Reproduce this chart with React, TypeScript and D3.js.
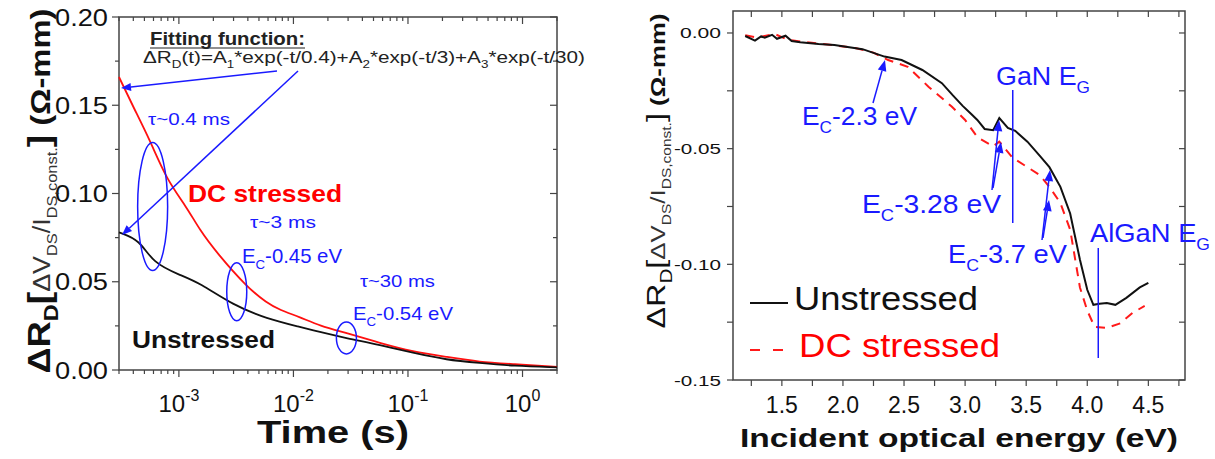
import React from "react";
import * as d3 from "d3";

// ---------- Left chart data (time decay) ----------
const tRed = [3e-4, 4e-4, 5.58e-4, 7.85e-4, 1.17e-3, 1.52e-3, 2.15e-3, 3.92e-3, 5.87e-3, 7.6e-3, 1.14e-2, 1.7e-2, 2.9e-2, 5.7e-2, 0.11, 0.218, 0.42, 0.83, 2.0];
const vRed = [0.166, 0.149, 0.1303, 0.1076, 0.0923, 0.0793, 0.0663, 0.047, 0.038, 0.034, 0.030, 0.025, 0.021, 0.0153, 0.0104, 0.0074, 0.0045, 0.0034, 0.0017];
const tBlack = [3e-4, 4.56e-4, 5.93e-4, 1.02e-3, 1.52e-3, 2.96e-3, 5.87e-3, 1.14e-2, 1.7e-2, 2.9e-2, 5.7e-2, 0.11, 0.218, 0.42, 0.83, 2.0];
const vBlack = [0.078, 0.0737, 0.0606, 0.0538, 0.0493, 0.0368, 0.029, 0.0244, 0.0215, 0.018, 0.0142, 0.0097, 0.0057, 0.004, 0.0023, 0.0015];
const leftYTicks = [0, 0.05, 0.1, 0.15, 0.2];
const leftYLabels = ["0.00", "0.05", "0.10", "0.15", "0.20"];
const leftXDecades = [-3, -2, -1, 0];

// ---------- Right chart data (spectrum) ----------
const eBlack = [1.2, 1.28, 1.33, 1.36, 1.42, 1.46, 1.53, 1.58, 1.65, 1.8, 1.93, 2.16, 2.34, 2.48, 2.65, 2.81, 2.9, 2.98, 3.05, 3.1, 3.16, 3.23, 3.28, 3.35, 3.41, 3.51, 3.61, 3.69, 3.78, 3.86, 3.9, 3.94, 4.0, 4.05, 4.1, 4.16, 4.23, 4.32, 4.43, 4.5];
const vBlackR = [-0.0013, -0.0033, -0.0015, -0.002, -0.0008, -0.0025, -0.0012, -0.0035, -0.004, -0.0048, -0.0052, -0.007, -0.0102, -0.0117, -0.016, -0.0217, -0.027, -0.0315, -0.035, -0.0376, -0.0415, -0.042, -0.0368, -0.041, -0.0423, -0.047, -0.053, -0.058, -0.0665, -0.078, -0.088, -0.098, -0.111, -0.1175, -0.117, -0.1167, -0.1175, -0.1145, -0.11, -0.108];
const eRed = [1.2, 1.3, 1.44, 1.55, 1.7, 1.8, 1.95, 2.1, 2.25, 2.37, 2.53, 2.7, 2.89, 3.0, 3.1, 3.23, 3.28, 3.39, 3.51, 3.61, 3.69, 3.78, 3.86, 3.94, 4.0, 4.06, 4.16, 4.27, 4.37, 4.47];
const vRedR = [-0.001, -0.002, -0.0004, -0.003, -0.004, -0.0045, -0.0055, -0.0065, -0.0085, -0.0117, -0.0146, -0.0232, -0.0318, -0.0376, -0.045, -0.049, -0.047, -0.054, -0.058, -0.0614, -0.0665, -0.0735, -0.085, -0.11, -0.12, -0.127, -0.1275, -0.1255, -0.121, -0.118];
const rightXTicks = [1.5, 2.0, 2.5, 3.0, 3.5, 4.0, 4.5];
const rightXLabels = ["1.5", "2.0", "2.5", "3.0", "3.5", "4.0", "4.5"];
const rightYTicks = [0, -0.05, -0.1, -0.15];
const rightYLabels = ["0.00", "-0.05", "-0.10", "-0.15"];
const ganEg = 3.39;
const alganEg = 4.09;

const FONT = "'Liberation Sans', Arial, sans-serif";
const BLUE = "#1a1aff";
const AX = "#444";

function Arrow({ x1, y1, x2, y2, color = BLUE, w = 1.5, head = 9 }: any) {
  const ang = Math.atan2(y2 - y1, x2 - x1);
  const hw = head * 0.4;
  const bx = x2 - head * Math.cos(ang);
  const by = y2 - head * Math.sin(ang);
  const p1 = [bx + hw * Math.sin(ang), by - hw * Math.cos(ang)];
  const p2 = [bx - hw * Math.sin(ang), by + hw * Math.cos(ang)];
  return (
    <g>
      <line x1={x1} y1={y1} x2={bx} y2={by} stroke={color} strokeWidth={w} />
      <polygon points={`${x2},${y2} ${p1[0]},${p1[1]} ${p2[0]},${p2[1]}`} fill={color} />
    </g>
  );
}

function Ec({ x, y, rest, size, len, color = BLUE, sub = "C" }: any) {
  return (
    <text x={x} y={y} fontSize={size} fill={color} fontFamily={FONT} textLength={len} lengthAdjust="spacingAndGlyphs">
      E<tspan fontSize={size * 0.65} dy={size * 0.3}>{sub}</tspan>
      <tspan dy={-size * 0.3}>{rest}</tspan>
    </text>
  );
}

export default function App() {
  // Left scales
  const xL = d3.scaleLog().domain([3e-4, 2]).range([119, 557]);
  const yL = d3.scaleLinear().domain([0, 0.2]).range([370, 17]);
  // Right scales
  const xR = d3.scaleLinear().domain([1.1, 4.8]).range([733, 1185]);
  const yR = d3.scaleLinear().domain([-0.15, 0.0095]).range([380, 11]);

  const lineL = d3.line<[number, number]>().x((d) => xL(d[0])).y((d) => yL(d[1])).curve(d3.curveBasis);
  const lineR = d3.line<[number, number]>().x((d) => xR(d[0])).y((d) => yR(d[1])).curve(d3.curveLinear);

  const redPts = tRed.map((t, i) => [t, vRed[i]] as [number, number]);
  const blackPts = tBlack.map((t, i) => [t, vBlack[i]] as [number, number]);
  const blackRPts = eBlack.map((e, i) => [e, vBlackR[i]] as [number, number]);
  const redRPts = eRed.map((e, i) => [e, vRedR[i]] as [number, number]);

  // log minor ticks
  const minorL: number[] = [];
  for (let dec = -4; dec <= 0; dec++) {
    for (let m = 1; m <= 9; m++) {
      const v = m * Math.pow(10, dec);
      if (v >= 3e-4 && v <= 2) minorL.push(v);
    }
  }
  const yMinorL = d3.range(0, 0.2001, 0.025);
  const xMinorR = d3.range(1.25, 4.8, 0.25);
  const yMinorR = d3.range(-0.15, 0.001, 0.025);

  const [l0, l1] = [119, 557];
  const [t0, b0] = [17, 370];
  const [r0, r1] = [733, 1185];
  const [rt, rb] = [11, 380];

  return (
    <svg width={1215} height={459} style={{ position: "absolute", left: 0, top: 0, background: "#fff" }} fontFamily={FONT}>
      <rect x={0} y={0} width={1215} height={459} fill="#fff" />

      {/* ================= LEFT CHART ================= */}
      {minorL.map((v, i) => {
        const isMajor = Math.abs(Math.log10(v) - Math.round(Math.log10(v))) < 1e-9;
        const L = isMajor ? 7 : 4;
        const x = xL(v);
        return (
          <g key={"lm" + i} stroke={AX} strokeWidth={1.2}>
            <line x1={x} x2={x} y1={b0} y2={b0 + L} />
            <line x1={x} x2={x} y1={t0} y2={t0 + L} />
          </g>
        );
      })}
      {yMinorL.map((v, i) => {
        const isMajor = i % 2 === 0;
        const L = isMajor ? 7 : 4;
        const y = yL(v);
        return (
          <g key={"ly" + i} stroke={AX} strokeWidth={1.2}>
            <line x1={l0 - L} x2={l0} y1={y} y2={y} />
            <line x1={l1 - L} x2={l1} y1={y} y2={y} />
          </g>
        );
      })}
      <rect x={l0} y={t0} width={l1 - l0} height={b0 - t0} fill="none" stroke={AX} strokeWidth={1.5} />

      {leftYTicks.map((v, i) => (
        <text key={"lyt" + i} x={108} y={yL(v) + 8.5} fontSize={23} textAnchor="end" fill="#111" textLength={53} lengthAdjust="spacingAndGlyphs">
          {leftYLabels[i]}
        </text>
      ))}
      {leftXDecades.map((d) => (
        <text key={"lxt" + d} x={xL(Math.pow(10, d))} y={412} fontSize={24} textAnchor="middle" fill="#111">
          10<tspan fontSize={16} dy={-11}>{d === 0 ? "0" : String(d)}</tspan>
        </text>
      ))}
      <text x={333} y={443} fontSize={31} fontWeight="bold" textAnchor="middle" fill="#111" textLength={152} lengthAdjust="spacingAndGlyphs">
        Time (s)
      </text>

      {/* left y label */}
      <text transform="translate(50,191) rotate(-90)" textAnchor="middle" fill="#111" textLength={365} lengthAdjust="spacingAndGlyphs">
        <tspan fontSize={31} fontWeight="bold">ΔR</tspan>
        <tspan fontSize={20} fontWeight="bold" dy={8}>D</tspan>
        <tspan fontSize={32} fontWeight="bold" dy={-8}>[</tspan>
        <tspan fontSize={23} fill="#333">ΔV</tspan>
        <tspan fontSize={14} dy={7} fill="#333">DS</tspan>
        <tspan fontSize={23} dy={-7} fill="#333">/I</tspan>
        <tspan fontSize={14} dy={7} fill="#333">DS,const.</tspan>
        <tspan fontSize={32} fontWeight="bold" dy={-7}>]</tspan>
        <tspan fontSize={28} fontWeight="bold"> (Ω-mm)</tspan>
      </text>

      {/* curves */}
      <path d={lineL(redPts) || ""} fill="none" stroke="#ff1010" strokeWidth={1.8} />
      <path d={lineL(blackPts) || ""} fill="none" stroke="#111" strokeWidth={1.8} />

      {/* annotations */}
      <text x={150} y={45} fontSize={18} fontWeight="bold" fill="#222" textLength={155} lengthAdjust="spacingAndGlyphs">
        Fitting function:
      </text>
      <line x1={150} x2={305} y1={48} y2={48} stroke="#222" strokeWidth={1.2} />
      <text x={143} y={63} fontSize={17} fill="#222" textLength={442} lengthAdjust="spacingAndGlyphs">
        ΔR<tspan fontSize={11} dy={5}>D</tspan>
        <tspan dy={-5}>(t)=A</tspan>
        <tspan fontSize={11} dy={5}>1</tspan>
        <tspan dy={-5}>*exp(-t/0.4)+A</tspan>
        <tspan fontSize={11} dy={5}>2</tspan>
        <tspan dy={-5}>*exp(-t/3)+A</tspan>
        <tspan fontSize={11} dy={5}>3</tspan>
        <tspan dy={-5}>*exp(-t/30)</tspan>
      </text>
      <Arrow x1={277} y1={71} x2={121} y2={88} head={10} />
      <Arrow x1={298} y1={71} x2={122} y2={235} head={10} />

      <text x={148} y={125} fontSize={16} fill={BLUE} textLength={82} lengthAdjust="spacingAndGlyphs">τ~0.4 ms</text>
      <ellipse cx={xL(5.9e-4)} cy={yL(0.0926)} rx={15} ry={64} fill="none" stroke={BLUE} strokeWidth={1.5} />
      <text x={188} y={202} fontSize={24} fontWeight="bold" fill="#ff0000" textLength={154} lengthAdjust="spacingAndGlyphs">DC stressed</text>

      <text x={250} y={228} fontSize={16} fill={BLUE} textLength={66} lengthAdjust="spacingAndGlyphs">τ~3 ms</text>
      <Ec x={242} y={263} size={21} rest="-0.45 eV" len={100} />
      <ellipse cx={xL(3.2e-3)} cy={yL(0.0443)} rx={10} ry={29} fill="none" stroke={BLUE} strokeWidth={1.5} />

      <text x={360} y={287} fontSize={16} fill={BLUE} textLength={75} lengthAdjust="spacingAndGlyphs">τ~30 ms</text>
      <Ec x={353} y={320} size={19} rest="-0.54 eV" len={100} />
      <ellipse cx={xL(2.9e-2)} cy={yL(0.0182)} rx={10} ry={16} fill="none" stroke={BLUE} strokeWidth={1.5} />

      <text x={132} y={348} fontSize={23} fontWeight="bold" fill="#111" textLength={143} lengthAdjust="spacingAndGlyphs">Unstressed</text>

      {/* ================= RIGHT CHART ================= */}
      {xMinorR.map((v, i) => {
        const x = xR(v);
        const L = 6;
        return (
          <g key={"rx" + i} stroke={AX} strokeWidth={1.2}>
            <line x1={x} x2={x} y1={rb} y2={rb + L} />
            <line x1={x} x2={x} y1={rt} y2={rt + L} />
          </g>
        );
      })}
      {yMinorR.map((v, i) => {
        const y = yR(v);
        const L = 6;
        return (
          <g key={"ry" + i} stroke={AX} strokeWidth={1.2}>
            <line x1={r0 - L} x2={r0} y1={y} y2={y} />
            <line x1={r1 - L} x2={r1} y1={y} y2={y} />
          </g>
        );
      })}
      <rect x={r0} y={rt} width={r1 - r0} height={rb - rt} fill="none" stroke={AX} strokeWidth={1.5} />

      {rightYTicks.map((v, i) => (
        <text key={"ryt" + i} x={721} y={yR(v) + 5.5} fontSize={15.5} textAnchor="end" fill="#111" textLength={v === 0 ? 41 : 47} lengthAdjust="spacingAndGlyphs">
          {rightYLabels[i]}
        </text>
      ))}
      {rightXTicks.map((v, i) => (
        <text key={"rxt" + i} x={xR(v)} y={413} fontSize={23} textAnchor="middle" fill="#111">
          {rightXLabels[i]}
        </text>
      ))}
      <text x={959} y={447} fontSize={25} fontWeight="bold" textAnchor="middle" fill="#111" textLength={438} lengthAdjust="spacingAndGlyphs">
        Incident optical energy (eV)
      </text>

      <text transform="translate(665,171) rotate(-90)" textAnchor="middle" fill="#111" textLength={315} lengthAdjust="spacingAndGlyphs">
        <tspan fontSize={25}>ΔR</tspan>
        <tspan fontSize={16} dy={7}>D</tspan>
        <tspan fontSize={25} dy={-7}>[</tspan>
        <tspan fontSize={20} fill="#333">ΔV</tspan>
        <tspan fontSize={12} dy={6} fill="#333">DS</tspan>
        <tspan fontSize={20} dy={-6} fill="#333">/I</tspan>
        <tspan fontSize={12} dy={6} fill="#333">DS,const.</tspan>
        <tspan fontSize={25} dy={-6}>]</tspan>
        <tspan fontSize={20} fontWeight="bold"> (Ω-mm)</tspan>
      </text>

      {/* curves */}
      <path d={lineR(redRPts) || ""} fill="none" stroke="#ff1a1a" strokeWidth={2} strokeDasharray="9,7" />
      <path d={lineR(blackRPts) || ""} fill="none" stroke="#111" strokeWidth={2} />

      {/* band gap lines */}
      <line x1={xR(ganEg)} x2={xR(ganEg)} y1={90} y2={223} stroke={BLUE} strokeWidth={1.5} />
      <line x1={xR(alganEg)} x2={xR(alganEg)} y1={248} y2={358} stroke={BLUE} strokeWidth={1.5} />

      <text x={996} y={85} fontSize={25} fill={BLUE} textLength={94} lengthAdjust="spacingAndGlyphs">
        GaN E<tspan fontSize={16} dy={8}>G</tspan>
      </text>
      <text x={1090} y={242} fontSize={25} fill={BLUE} textLength={120} lengthAdjust="spacingAndGlyphs">
        AlGaN E<tspan fontSize={16} dy={8}>G</tspan>
      </text>

      <Ec x={802} y={125} size={25} rest="-2.3 eV" len={115} />
      <Arrow x1={873} y1={103} x2={885} y2={60} head={11} />

      <Ec x={862} y={213} size={25} rest="-3.28 eV" len={139} />
      <Arrow x1={992} y1={190} x2={999} y2={120} head={11} />
      <Arrow x1={993} y1={188} x2={1001} y2={142} head={11} />

      <Ec x={948} y={263} size={25} rest="-3.7 eV" len={119} />
      <Arrow x1={1042} y1={240} x2={1050} y2={170} head={11} />
      <Arrow x1={1043} y1={238} x2={1049} y2={200} head={11} />

      {/* legend */}
      <line x1={750} x2={788} y1={303} y2={303} stroke="#111" strokeWidth={2} />
      <text x={794} y={310} fontSize={34} fill="#111" textLength={184} lengthAdjust="spacingAndGlyphs">Unstressed</text>
      <line x1={750} x2={760} y1={350} y2={350} stroke="#ff1a1a" strokeWidth={2} />
      <line x1={773} x2={783} y1={350} y2={350} stroke="#ff1a1a" strokeWidth={2} />
      <text x={799} y={357} fontSize={34} fill="#ff0000" textLength={201} lengthAdjust="spacingAndGlyphs">DC stressed</text>
    </svg>
  );
}
